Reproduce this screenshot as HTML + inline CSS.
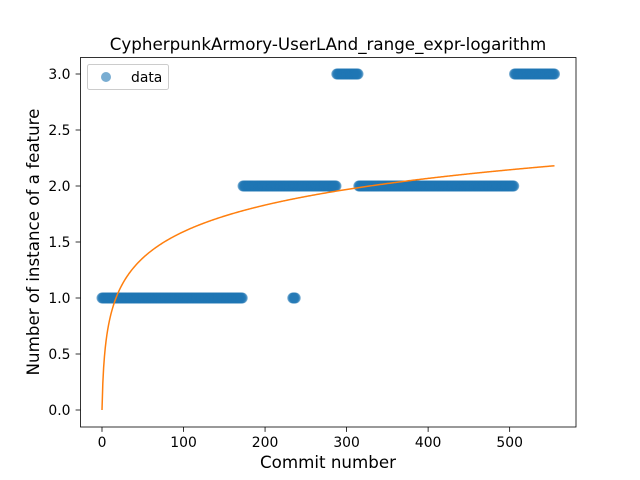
<!DOCTYPE html>
<html><head><meta charset="utf-8"><style>body{margin:0;background:#fff}svg{display:block;font-family:"DejaVu Sans","Liberation Sans",sans-serif}</style></head>
<body>
<svg id="chart" width="640" height="480" xmlns="http://www.w3.org/2000/svg">
<rect width="640" height="480" fill="#fff"/>
<text x="328" y="50" text-anchor="middle" font-size="16.7">CypherpunkArmory-UserLAnd_range_expr-logarithm</text>
<g id="plot"></g>
<text x="328" y="468" text-anchor="middle" font-size="16.7">Commit number</text>
<text transform="translate(39,242) rotate(-90)" text-anchor="middle" font-size="16.7">Number of instance of a feature</text>
</svg>
<script>
const runStart=[0,173,234,288,315,506];
const runEnd=[172,287,237,314,505,555];
const runValue=[1,2,1,3,2,3];
const xTicks=[0,100,200,300,400,500];
const yTicks=[0,0.5,1,1.5,2,2.5,3];
const fitA=0, fitB=0.345, fitMax=555;
const L=80.5,R=576,T=57.5,B=427;
const X=v=>102+v*0.8153;
const Y=v=>410-v*112;
const NS="http://www.w3.org/2000/svg";
const g=document.getElementById('plot');
function mk(t,a,p){const e=document.createElementNS(NS,t);for(const k in a)e.setAttribute(k,a[k]);(p||g).appendChild(e);return e;}
for(let r=0;r<runStart.length;r++){
  for(let x=runStart[r];x<=runEnd[r];x++){
    const c=mk('circle',{cx:X(x),cy:Y(runValue[r]),r:5.5,fill:'#1f77b4','fill-opacity':0.6});
    
    
  }
}
let d='';
for(let i=0;i<=fitMax;i++){const y=fitA+fitB*Math.log(i+1);d+=(i?'L':'M')+X(i).toFixed(2)+','+Y(y).toFixed(2);}
const fl=mk('path',{d:d,fill:'none',stroke:'#ff7f0e','stroke-width':1.5});


const fr=mk('rect',{x:L,y:T,width:R-L,height:B-T,fill:'none',stroke:'#000','stroke-width':0.8});


xTicks.forEach(t=>{
  mk('line',{x1:X(t),x2:X(t),y1:B,y2:B+4.9,stroke:'#000','stroke-width':0.8});
  const tx=mk('text',{x:X(t),y:B+20,'text-anchor':'middle','font-size':13.9});
  tx.textContent=t;
  
  
});
yTicks.forEach(t=>{
  mk('line',{x1:L-4.9,x2:L,y1:Y(t),y2:Y(t),stroke:'#000','stroke-width':0.8});
  const tx=mk('text',{x:L-10,y:Y(t)+5,'text-anchor':'end','font-size':13.9});
  tx.textContent=t.toFixed(1);
  
  
});
const lg=mk('g',{});


mk('rect',{x:87.5,y:64.5,width:81,height:25,rx:2,fill:'#fff','fill-opacity':0.8,stroke:'#ccc'},lg);
mk('circle',{cx:106,cy:77,r:5,fill:'#1f77b4','fill-opacity':0.6},lg);
const lt=mk('text',{x:131,y:82,'font-size':13.9},lg);
lt.textContent='data';


</script>
</body></html>
